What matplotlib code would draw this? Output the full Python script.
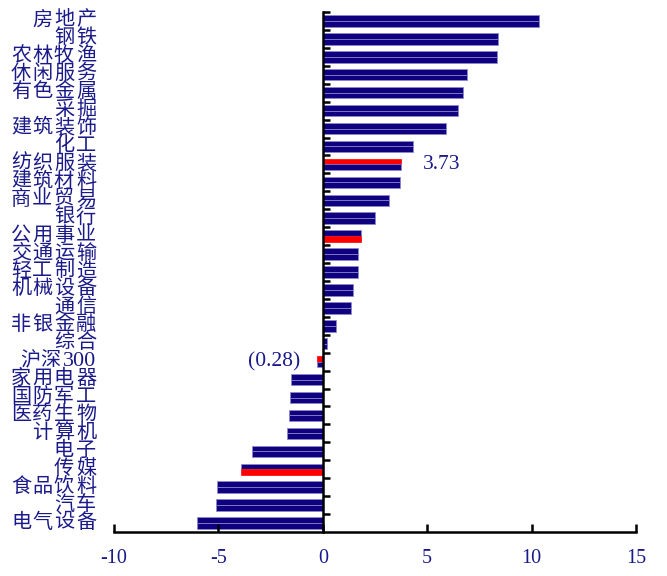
import matplotlib
matplotlib.use("Agg")
import matplotlib.pyplot as plt
import matplotlib.transforms as mtransforms

categories = ["房地产", "钢铁", "农林牧渔", "休闲服务", "有色金属", "采掘", "建筑装饰", "化工",
              "纺织服装", "建筑材料", "商业贸易", "银行", "公用事业", "交通运输", "轻工制造",
              "机械设备", "通信", "非银金融", "综合", "沪深300", "家用电器", "国防军工",
              "医药生物", "计算机", "电子", "传媒", "食品饮料", "汽车", "电气设备"]
values = [10.36, 8.40, 8.35, 6.93, 6.70, 6.48, 5.91, 4.31,
          3.73, 3.69, 3.15, 2.50, 1.85, 1.70, 1.69,
          1.46, 1.37, 0.61, 0.19, -0.28, -1.52, -1.57,
          -1.60, -1.73, -3.41, -3.90, -5.05, -5.13, -6.04]
# which half of the bar is highlighted red: "top", "bottom" or None
highlight = {"纺织服装": "top", "公用事业": "bottom", "沪深300": "top", "传媒": "bottom"}
annotations = {"纺织服装": "3.73", "沪深300": "(0.28)"}
xticks = [-10, -5, 0, 5, 10, 15]

NAVY = "#100080"
RED = "#ff0000"
TXT = "#1a1a8a"
EDGE = "#8a8ad0"

fig = plt.figure(figsize=(6.67, 5.76), dpi=100)
ax = fig.add_axes([114/667, 1-532/576, (636-114)/667, (532-12)/576])

n = len(categories)
h = 0.32
for i, (c, v) in enumerate(zip(categories, values)):
    hl = highlight.get(c)
    top_col = RED if hl == "top" else NAVY
    bot_col = RED if hl == "bottom" else NAVY
    ax.barh(i - h/2, v, height=h, color=top_col,
            edgecolor=(EDGE if top_col == NAVY else RED), linewidth=0.5)
    ax.barh(i + h/2, v, height=h, color=bot_col,
            edgecolor=(EDGE if bot_col == NAVY else RED), linewidth=0.5)

ax.set_xlim(-10, 15)
ax.set_ylim(n - 0.5, -0.5)

for s in ["top", "right"]:
    ax.spines[s].set_visible(False)
ax.spines["left"].set_position(("data", 0))
ax.spines["left"].set_linewidth(1.8)
ax.spines["bottom"].set_linewidth(1.8)
ax.spines["left"].set_zorder(5)

ax.set_yticks([i - 0.5 for i in range(n)])
ax.set_yticklabels([])
ax.tick_params(axis="y", direction="in", length=5, width=1.8, left=True)
ax.set_xticks(xticks)
ax.set_xticklabels([str(t) for t in xticks], fontfamily="Liberation Serif",
                   fontsize=14.5, color=TXT)
ax.tick_params(axis="x", direction="in", length=6, width=1.8, pad=12)

# category labels, character by character in columns
trans = mtransforms.blended_transform_factory(fig.transFigure, ax.transData)
col_x = [21, 42, 64, 86]
fam = ["Liberation Serif", "Noto Sans CJK SC"]
for i, c in enumerate(categories):
    if c == "沪深300":
        ax.text(30/667, i, "沪", transform=trans, ha="center", va="center",
                fontsize=14.5, color=TXT, family=fam)
        ax.text(50/667, i, "深", transform=trans, ha="center", va="center",
                fontsize=14.5, color=TXT, family=fam)
        ax.text(96/667, i, "300", transform=trans, ha="right", va="center",
                fontsize=16, color=TXT, family=fam)
        continue
    chars = list(c)
    start = 4 - len(chars)
    for k, ch in enumerate(chars):
        ax.text(col_x[start + k]/667, i, ch, transform=trans, ha="center",
                va="center", fontsize=14.5, color=TXT, family=fam)

for c, t in annotations.items():
    i = categories.index(c)
    v = values[i]
    if v >= 0:
        ax.text(4.8, i, t, ha="left", va="center", fontsize=15.5, color=TXT,
                family="Liberation Serif")
    else:
        ax.text(-1.1, i, t, ha="right", va="center", fontsize=15.5, color=TXT,
                family="Liberation Serif")

fig.savefig("out.png", dpi=100)
